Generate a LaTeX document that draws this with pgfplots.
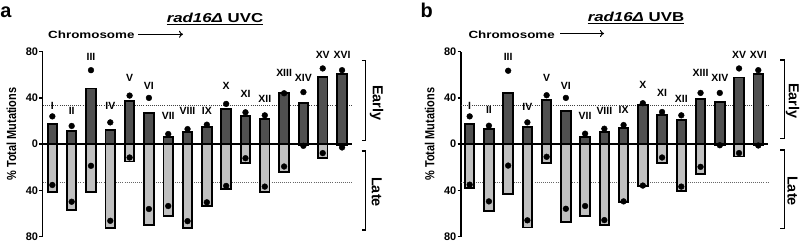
\documentclass[border=0pt]{standalone}
\usepackage{fontspec}
\setmainfont{Liberation Sans}
\usepackage{graphicx}
\usepackage{pgfplots}
\pgfplotsset{compat=1.18}
\usepackage{pgfplotstable}
\usetikzlibrary{arrows.meta}

\definecolor{earlybar}{HTML}{505050}
\definecolor{latebar}{HTML}{C0C0C0}

% per chromosome: early / late share (%), observed dots, label height
\pgfplotstableread{
x  early late  dearly dlate ly   name
1  17.4 -41.2 24.0 -35.4 33.3 I
2  11.6 -56.8 15.7 -49.9 28.4 II
3  48.1 -41.2 64.0 -18.8 75.7 III
4  12.5 -73.0 18.8 -66.4 32.8 IV
5  37.1 -15.1 42.0 -11.6 57.4 V
6  26.7 -70.1 40.0 -56.2 50.1 VI
7   6.1 -62.0  8.7 -53.6 24.1 VII
8  10.1 -73.0 13.0 -66.7 28.4 VIII
9  14.5 -53.9 16.8 -50.4 28.4 IX
10 30.4 -38.8 34.8 -36.2 50.1 X
11 24.6 -16.5 27.5 -12.2 43.8 XI
12 22.0 -41.7 24.9 -36.8 39.1 XII
13 44.0 -23.8 44.0 -19.4 61.7 XIII
14 35.9  -0.8 45.0  -1.5 57.4 XIV
15 58.0 -12.2 65.5  -7.8 77.1 XV
16 60.9  -1.0 64.0  -2.9 77.1 XVI
}\uvc

\pgfplotstableread{
x  early late  dearly dlate ly   name
1  17.1 -38.0 24.0 -35.1 32.8 I
2  13.3 -58.0 15.9 -49.6 29.9 II
3  44.3 -43.5 63.5 -18.6 75.1 III
4  14.5 -72.2 18.8 -66.0 32.2 IV
5  38.0 -16.0 42.3 -11.0 57.4 V
6  29.0 -67.2 40.0 -56.0 50.1 VI
7   6.1 -62.0  9.0 -53.6 24.1 VII
8  10.4 -70.1 13.3 -65.8 28.7 VIII
9  13.6 -50.4 16.5 -49.6 29.3 IX
10 33.6 -35.9 35.4 -35.9 51.0 X
11 25.5 -16.2 27.8 -11.6 44.3 XI
12 20.9 -40.3 24.9 -36.8 39.4 XII
13 38.8 -25.8 44.3 -19.7 62.0 XIII
14 36.5  -0.6 44.3  -1.0 57.7 XIV
15 57.7 -10.7 65.5  -7.8 77.1 XV
16 60.9  -1.2 64.0  -1.2 77.1 XVI
}\uvb

\pgfplotsset{
  chromaxis/.style={
    scale only axis, height=184.8bp,
    xmax=16.5, ymin=-80, ymax=80,
    axis x line=none, axis y line=left,
    axis line style={-, line width=1.4bp, black},
    ytick={-80,-40,0,40,80}, yticklabels={80,40,0,40,80},
    tick align=outside, major tick length=3.5bp,
    ytick style={line width=1.4bp, black},
    yticklabel style={font=\fontsize{11}{11}\selectfont\bfseries, inner sep=1bp},
    clip=false,
  },
  chrombar/.style={ybar, bar width=9.5bp, bar shift=0pt, draw=black, line width=1.9bp},
}

\newcommand\chromplots[2]{%
  \addplot[black!75, line width=0.9bp, dash pattern=on 0.9bp off 1.2bp] coordinates {(#2,33.3) (16.5,33.3)};
  \addplot[black!60, line width=0.9bp, dash pattern=on 0.9bp off 1.2bp] coordinates {(#2,-33.3) (16.5,-33.3)};
  \addplot[chrombar, fill=latebar] table[x=x, y=late] {#1};
  \addplot[chrombar, fill=earlybar] table[x=x, y=early] {#1};
  \addplot[black, line width=1.9bp] coordinates {(#2,0) (16.5,0)};
  \addplot[only marks, mark=*, mark size=2.9bp, black] table[x=x, y=dearly] {#1};
  \addplot[only marks, mark=*, mark size=2.9bp, black] table[x=x, y=dlate] {#1};
  \addplot[draw=none, mark=none, nodes near coords, point meta=explicit symbolic,
    nodes near coords style={anchor=center, inner sep=0pt, font=\fontsize{10.5}{10.5}\selectfont\bfseries}]
    table[x=x, y=ly, meta=name] {#1};
}

\newcommand\titletext[1]{\scalebox{1.3}[1]{\fontsize{13}{13}\selectfont\bfseries\itshape rad16Δ\upshape\ #1}}
\newcommand\chromtext{\scalebox{1.28}[1]{\fontsize{10.5}{10.5}\selectfont\bfseries Chromosome}}
\newcommand\ylabtext{\scalebox{1}[1.2]{\fontsize{11}{11}\selectfont\bfseries \% Total Mutations}}
\newcommand\sidetext[1]{\fontsize{14.5}{14.5}\selectfont\bfseries #1}

\begin{document}
\begin{tikzpicture}
\path[use as bounding box] (0,0) rectangle (800bp,242bp);

% ---------- panel a: UVC ----------
\node[anchor=base west, inner sep=0pt, font=\fontsize{20}{20}\selectfont\bfseries] at (0.3bp,224.5bp) {a};
\node[anchor=base, inner sep=0pt] (ta) at (215bp,219.5bp) {\titletext{UVC}};
\draw[line width=1.3bp] ([yshift=-1.9bp]ta.base west) -- ([yshift=-1.9bp]ta.base east);
\node[anchor=base west, inner sep=0pt] at (48bp,203bp) {\chromtext};
\draw[line width=1bp, -{To[length=4bp, width=7bp]}] (138bp,207.7bp) -- (183bp,207.7bp);
\node[rotate=90, inner sep=0pt] at (11.3bp,108bp) {\ylabtext};

\begin{axis}[chromaxis, at={(42.7bp,5.5bp)}, anchor=south west, width=309bp, xmin=0.5]
\chromplots{\uvc}{0.5}
\end{axis}

\draw[line width=1.4bp] (361.7bp,181.3bp) -- (365.7bp,181.3bp) -- (365.7bp,101.3bp) -- (361.7bp,101.3bp);
\draw[line width=1.4bp] (361.7bp,91bp) -- (365.7bp,91bp) -- (365.7bp,12bp) -- (361.7bp,12bp);
\node[rotate=-90, inner sep=0pt] at (376.7bp,139bp) {\sidetext{Early}};
\node[rotate=-90, inner sep=0pt] at (376.7bp,50bp) {\sidetext{Late}};

% ---------- panel b: UVB ----------
\node[anchor=base west, inner sep=0pt, font=\fontsize{20}{20}\selectfont\bfseries] at (420.3bp,224.5bp) {b};
\node[anchor=base, inner sep=0pt] (tb) at (636bp,220.3bp) {\titletext{UVB}};
\draw[line width=1.3bp] ([yshift=-1.9bp]tb.base west) -- ([yshift=-1.9bp]tb.base east);
\node[anchor=base west, inner sep=0pt] at (468.3bp,203.5bp) {\chromtext};
\draw[line width=1bp, -{To[length=4bp, width=7bp]}] (560bp,208.5bp) -- (604bp,208.5bp);
\node[rotate=90, inner sep=0pt] at (429.6bp,108bp) {\ylabtext};

\begin{axis}[chromaxis, at={(461bp,5.5bp)}, anchor=south west, width=306.9bp, xmin=0.55]
\chromplots{\uvb}{0.55}
\end{axis}

\draw[line width=1.4bp] (780.3bp,182bp) -- (784.3bp,182bp) -- (784.3bp,103.7bp) -- (780.3bp,103.7bp);
\draw[line width=1.4bp] (780.3bp,92bp) -- (784.3bp,92bp) -- (784.3bp,13.7bp) -- (780.3bp,13.7bp);
\node[rotate=-90, inner sep=0pt] at (792.5bp,141bp) {\sidetext{Early}};
\node[rotate=-90, inner sep=0pt] at (792.5bp,51bp) {\sidetext{Late}};
\end{tikzpicture}
\end{document}
